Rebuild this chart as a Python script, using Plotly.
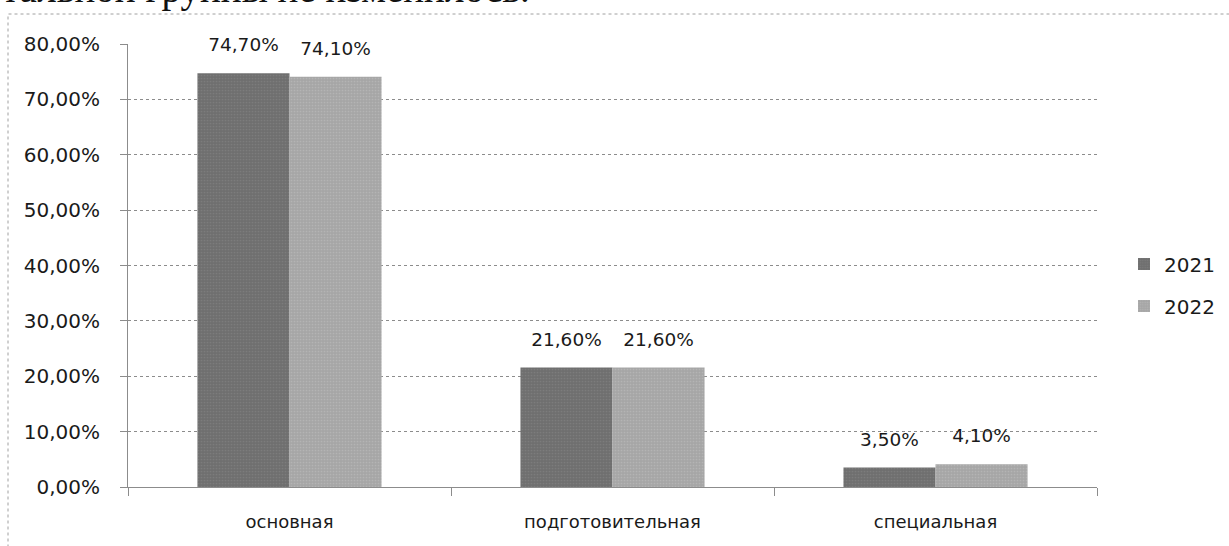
import plotly.graph_objects as go

categories = ["основная", "подготовительная", "специальная"]
series_names = ["2021", "2022"]
values_2021 = [0.747, 0.216, 0.035]
values_2022 = [0.741, 0.216, 0.041]
y_ticks = [0, 0.1, 0.2, 0.3, 0.4, 0.5, 0.6, 0.7, 0.8]
top_text = "тальной группы не изменилось."

colors = ["#6f6f6f", "#a6a6a6"]
pattern_colors = ["#8a8a8a", "#c2c2c2"]
font_family = "'DejaVu Sans', sans-serif"

fig = go.Figure()
for name, vals, col, pcol in zip(series_names, [values_2021, values_2022], colors, pattern_colors):
    fig.add_trace(go.Bar(
        x=categories, y=vals, name=name, legendgroup=name,
        offsetgroup="g" + name, alignmentgroup="all",
        marker=dict(color=col, line=dict(width=0),
                    pattern=dict(shape=".", size=3, solidity=0.25, fgcolor=pcol)),
        hoverinfo="skip",
    ))
# data labels: invisible markers so text sits above the bars
for name, vals in zip(series_names, [values_2021, values_2022]):
    fig.add_trace(go.Scatter(
        x=categories, y=vals, name=name + " labels", mode="markers+text",
        offsetgroup="g" + name, alignmentgroup="all",
        showlegend=False, hoverinfo="skip",
        marker=dict(size=26, opacity=0),
        texttemplate="%{y:.2%}", textposition="top center",
        textfont=dict(size=18.5, color="#1a1a1a", family=font_family),
        cliponaxis=False,
    ))

fig.update_layout(
    width=1229, height=546,
    margin=dict(l=128, r=132, t=44, b=59),
    paper_bgcolor="white", plot_bgcolor="white",
    barmode="group", bargap=0.43, bargroupgap=0,
    scattermode="group", scattergap=0.43,
    separators=", ",
    font=dict(family=font_family, color="#1a1a1a"),
    showlegend=True,
    legend=dict(xref="container", yref="container", x=1124 / 1229, y=1 - 285 / 546,
                xanchor="left", yanchor="middle",
                font=dict(size=20, family=font_family), tracegroupgap=13,
                itemwidth=30, bgcolor="rgba(0,0,0,0)"),
)
fig.update_yaxes(
    range=[0, 0.8], tickvals=y_ticks, tickformat=".2%",
    tickfont=dict(size=20, family=font_family),
    showgrid=True, gridcolor="#8c8c8c", griddash="dot", gridwidth=1,
    showline=True, linecolor="#8c8c8c", linewidth=1,
    ticks="outside", ticklen=7, tickcolor="#8c8c8c", ticklabelstandoff=16,
    zeroline=False,
)
fig.update_xaxes(
    tickfont=dict(size=18, family=font_family),
    showline=True, linecolor="#8c8c8c", linewidth=1,
    ticks="outside", ticklen=8, tickcolor="#8c8c8c", tickson="boundaries",
    ticklabelstandoff=18,
)

# chart border (dotted)
fig.add_shape(type="rect", xref="paper", yref="paper",
              x0=(8 - 128) / 969, x1=1.2, y0=-0.3, y1=(487 - 14) / 443,
              line=dict(color="#a0a0a0", width=1, dash="dot"), layer="below")

fig.add_annotation(text=top_text, xref="paper", yref="paper",
                   x=(0 - 128) / 969, y=(487 + 11) / 443, xanchor="left", yanchor="middle",
                   showarrow=False, font=dict(size=39, family="'Liberation Serif', serif", color="#111"))

fig.write_html("out.html", config={"displayModeBar": False},
               post_script="document.body.style.margin='0';document.body.style.padding='0';")
